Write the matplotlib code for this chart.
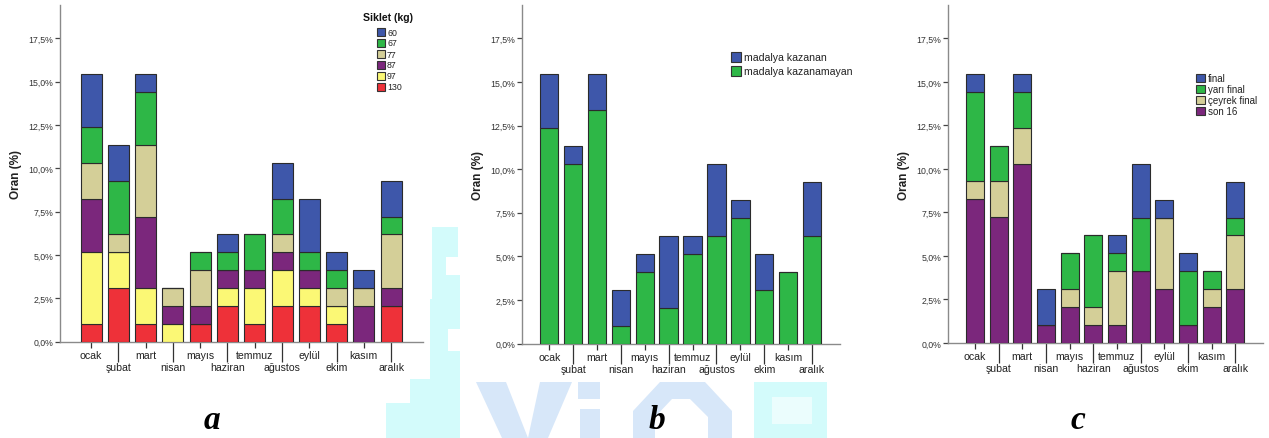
import matplotlib
matplotlib.use("Agg")
import matplotlib.pyplot as plt
from matplotlib.patches import Rectangle, Polygon
from matplotlib.ticker import FuncFormatter

plt.rcParams["font.family"] = ["Liberation Sans", "DejaVu Sans"]

# ---- data (percent of all 97 athletes) ----
months = ["ocak", "şubat", "mart", "nisan", "mayıs", "haziran",
          "temmuz", "ağustos", "eylül", "ekim", "kasım", "aralık"]

# a) weight class (kg), stacked bottom -> top
kg130 = [1.03, 3.09, 1.03, 0.00, 1.03, 2.06, 1.03, 2.06, 2.06, 1.03, 0.00, 2.06]
kg97 = [4.12, 2.06, 2.06, 1.03, 0.00, 1.03, 2.06, 2.06, 1.03, 1.03, 0.00, 0.00]
kg87 = [3.09, 0.00, 4.12, 1.03, 1.03, 1.03, 1.03, 1.03, 1.03, 0.00, 2.06, 1.03]
kg77 = [2.06, 1.03, 4.12, 1.03, 2.06, 0.00, 0.00, 1.03, 0.00, 1.03, 1.03, 3.09]
kg67 = [2.06, 3.09, 3.09, 0.00, 1.03, 1.03, 2.06, 2.06, 1.03, 1.03, 0.00, 1.03]
kg60 = [3.09, 2.06, 1.03, 0.00, 0.00, 1.03, 0.00, 2.06, 3.09, 1.03, 1.03, 2.06]

# b) medal status
medal_no = [12.37, 10.31, 13.40, 1.03, 4.12, 2.06, 5.15, 6.19, 7.22, 3.09, 4.12, 6.19]
medal_yes = [3.09, 1.03, 2.06, 2.06, 1.03, 4.12, 1.03, 4.12, 1.03, 2.06, 0.00, 3.09]

# c) furthest round reached
son16 = [8.25, 7.22, 10.31, 1.03, 2.06, 1.03, 1.03, 4.12, 3.09, 1.03, 2.06, 3.09]
ceyrek = [1.03, 2.06, 2.06, 0.00, 1.03, 1.03, 3.09, 0.00, 4.12, 0.00, 1.03, 3.09]
yari = [5.15, 2.06, 2.06, 0.00, 2.06, 4.12, 1.03, 3.09, 0.00, 3.09, 1.03, 1.03]
final = [1.03, 0.00, 1.03, 2.06, 0.00, 0.00, 1.03, 3.09, 1.03, 1.03, 0.00, 2.06]

BLUE, GREEN, TAN = "#3E57AA", "#2EB747", "#D4CF98"
PURPLE, YELLOW, RED = "#7B277C", "#FBF875", "#EE3139"

panel_a = [("130", kg130, RED), ("97", kg97, YELLOW), ("87", kg87, PURPLE),
           ("77", kg77, TAN), ("67", kg67, GREEN), ("60", kg60, BLUE)]
panel_b = [("madalya kazanamayan", medal_no, GREEN),
           ("madalya kazanan", medal_yes, BLUE)]
panel_c = [("son 16", son16, PURPLE), ("çeyrek final", ceyrek, TAN),
           ("yarı final", yari, GREEN), ("final", final, BLUE)]

W, H = 1269, 439
fig = plt.figure(figsize=(W / 100, H / 100), dpi=100)
fig.patch.set_facecolor("white")


def fx(x):
    return x / W


def fy(y):
    return 1 - y / H


# ---- faint background logo ----
CYAN, LBLUE = "#D3FBFB", "#D7E7F9"
logo = [
    (CYAN, [(432, 228), (458, 228), (458, 258), (446, 258), (446, 276), (460, 276),
            (460, 330), (448, 330), (448, 352), (460, 352), (460, 439), (386, 439),
            (386, 404), (410, 404), (410, 380), (430, 380), (430, 300), (432, 300)]),
    (LBLUE, [(476, 383), (506, 383), (528, 439), (502, 439)]),
    (LBLUE, [(540, 383), (572, 383), (548, 439), (528, 439)]),
    (LBLUE, [(578, 383), (600, 383), (600, 400), (578, 400)]),
    (LBLUE, [(580, 410), (600, 410), (600, 439), (580, 439)]),
    (LBLUE, [(660, 383), (705, 383), (732, 412), (732, 439), (708, 439), (708, 418),
             (690, 400), (672, 400), (655, 418), (655, 439), (633, 439), (633, 412)]),
    (CYAN, [(754, 383), (827, 383), (827, 439), (754, 439)]),
]
for col, pts in logo:
    fig.patches.append(Polygon([(fx(x), fy(y)) for x, y in pts], closed=True,
                               transform=fig.transFigure, facecolor=col,
                               edgecolor="none", zorder=0))
fig.patches.append(Rectangle((fx(772), fy(425)), fx(40), (425 - 398) / H,
                             transform=fig.transFigure, facecolor="white",
                             edgecolor="none", alpha=0.55, zorder=0))


def pct(v, _):
    return f"{v:.1f}%".replace(".", ",")


def draw_panel(rect, series):
    l, r, t, b = rect
    ax = fig.add_axes([fx(l), fy(b), fx(r - l), (b - t) / H])
    ax.set_facecolor("none")
    x = list(range(len(months)))
    base = [0.0] * len(months)
    for name, vals, col in series:
        ax.bar(x, vals, width=0.77, bottom=base, color=col,
               edgecolor="#2b2b2b", linewidth=0.8, zorder=3)
        base = [p + q for p, q in zip(base, vals)]
    ax.set_xlim(-1.14, 12.17)
    ax.set_ylim(0, 19.42)
    for s in ("top", "right"):
        ax.spines[s].set_visible(False)
    for s in ("left", "bottom"):
        ax.spines[s].set_color("#8a8a8a")
        ax.spines[s].set_linewidth(1.0)
    ax.set_yticks([0, 2.5, 5, 7.5, 10, 12.5, 15, 17.5])
    ax.yaxis.set_major_formatter(FuncFormatter(pct))
    ax.tick_params(axis="y", length=3.8, width=0.9, color="#444444", pad=1.2,
                   labelsize=6.3, labelcolor="#333333")
    ax.set_xticks(x[0::2], months[0::2])
    ax.set_xticks(x[1::2], months[1::2], minor=True)
    ax.tick_params(axis="x", which="major", length=4.2, width=0.9, color="#333333",
                   pad=1.6, labelsize=7.6, labelcolor="#222222")
    ax.tick_params(axis="x", which="minor", length=14.2, width=0.9, color="#333333",
                   pad=0.4, labelsize=7.6, labelcolor="#222222")
    ax.set_ylabel("Oran (%)", fontsize=8.5, fontweight="bold", color="#222222",
                  ha="center", va="center")
    ax.yaxis.set_label_coords(-44 / (r - l), 0.5)
    return ax


def legend(series, px, rows, pw, ph, tx, size, title=None):
    for (name, vals, col), yc in zip(series[::-1], rows):
        fig.patches.append(Rectangle((fx(px), fy(yc + ph / 2)), fx(pw), ph / H,
                                     transform=fig.transFigure, facecolor=col,
                                     edgecolor="#333333", linewidth=0.8, zorder=5))
        fig.text(fx(tx), fy(yc), name, ha="left", va="center", fontsize=size,
                 color="#222222")
    if title:
        fig.text(*title[0], title[1], ha="center", va="center", fontsize=7.6,
                 fontweight="bold", color="#111111")


draw_panel((60, 423, 6, 342.5), panel_a)
draw_panel((522, 840, 6, 344.5), panel_b)
draw_panel((948, 1263, 6, 344), panel_c)

legend(panel_a, 377, [33, 44, 55, 66, 77, 88], 8, 7.5, 387, 6.3,
       title=((fx(388), fy(18)), "Siklet (kg)"))
legend(panel_b, 731, [58, 72], 10, 9.5, 743.5, 7.6)
legend(panel_c, 1196, [79, 90, 101, 112], 8.5, 8, 1207.5, 7.0)

for lab, xc in (("a", 212), ("b", 657), ("c", 1078)):
    fig.text(fx(xc), fy(421), lab, ha="center", va="center", fontsize=24,
             fontweight="bold", fontstyle="italic",
             family=["Liberation Serif", "DejaVu Serif"], color="#000000")

fig.savefig("out.png", dpi=100, facecolor="white")
